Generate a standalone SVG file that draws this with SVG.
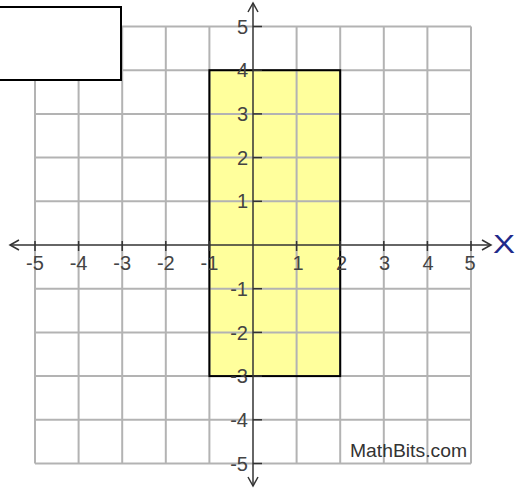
<svg xmlns="http://www.w3.org/2000/svg" width="523" height="489" viewBox="0 0 523 489">
<style>
.grid line{stroke:#b3b3b3;stroke-width:2}
.ax{stroke:#333;stroke-width:1.5;fill:none}
.tick{stroke:#333;stroke-width:1.5}
.lbl{font-family:"Liberation Sans",Arial,sans-serif;font-size:20px;fill:#444}
.xl{text-anchor:middle}
.yl{text-anchor:end}
</style>
<rect width="523" height="489" fill="#fff"/>
<g id="region">
<rect x="209.4" y="70.2" width="130.8" height="305.9" fill="#ffff9c"/>
</g>
<g id="grid" class="grid">
<line x1="35" y1="26.5" x2="35" y2="463.5"/>
<line x1="78.6" y1="26.5" x2="78.6" y2="463.5"/>
<line x1="122.2" y1="26.5" x2="122.2" y2="463.5"/>
<line x1="165.8" y1="26.5" x2="165.8" y2="463.5"/>
<line x1="209.4" y1="26.5" x2="209.4" y2="463.5"/>
<line x1="296.6" y1="26.5" x2="296.6" y2="463.5"/>
<line x1="340.2" y1="26.5" x2="340.2" y2="463.5"/>
<line x1="383.8" y1="26.5" x2="383.8" y2="463.5"/>
<line x1="427.4" y1="26.5" x2="427.4" y2="463.5"/>
<line x1="471" y1="26.5" x2="471" y2="463.5"/>
<line x1="35" y1="26.5" x2="471" y2="26.5"/>
<line x1="35" y1="70.2" x2="471" y2="70.2"/>
<line x1="35" y1="113.9" x2="471" y2="113.9"/>
<line x1="35" y1="157.6" x2="471" y2="157.6"/>
<line x1="35" y1="201.3" x2="471" y2="201.3"/>
<line x1="35" y1="288.7" x2="471" y2="288.7"/>
<line x1="35" y1="332.4" x2="471" y2="332.4"/>
<line x1="35" y1="376.1" x2="471" y2="376.1"/>
<line x1="35" y1="419.8" x2="471" y2="419.8"/>
<line x1="35" y1="463.5" x2="471" y2="463.5"/>
</g>
<g id="region-border">
<rect x="209.4" y="70.2" width="130.8" height="305.9" fill="none" stroke="#000" stroke-width="2"/>
</g>
<g id="axes">
<line class="ax" x1="10" y1="245" x2="491" y2="245"/>
<polyline class="ax" points="19,240 10,245 19,250"/>
<polyline class="ax" points="482,240 491,245 482,250"/>
<line class="ax" x1="253" y1="3" x2="253" y2="486"/>
<polyline class="ax" points="248,12 253,3 258,12"/>
<polyline class="ax" points="248,477 253,486 258,477"/>
<g class="tick">
<line x1="35" y1="241" x2="35" y2="251"/>
<line x1="78.6" y1="241" x2="78.6" y2="251"/>
<line x1="122.2" y1="241" x2="122.2" y2="251"/>
<line x1="165.8" y1="241" x2="165.8" y2="251"/>
<line x1="209.4" y1="241" x2="209.4" y2="251"/>
<line x1="296.6" y1="241" x2="296.6" y2="251"/>
<line x1="340.2" y1="241" x2="340.2" y2="251"/>
<line x1="383.8" y1="241" x2="383.8" y2="251"/>
<line x1="427.4" y1="241" x2="427.4" y2="251"/>
<line x1="471" y1="241" x2="471" y2="251"/>
<line x1="253" y1="26.5" x2="262" y2="26.5"/>
<line x1="253" y1="70.2" x2="262" y2="70.2"/>
<line x1="253" y1="113.9" x2="262" y2="113.9"/>
<line x1="253" y1="157.6" x2="262" y2="157.6"/>
<line x1="253" y1="201.3" x2="262" y2="201.3"/>
<line x1="253" y1="288.7" x2="262" y2="288.7"/>
<line x1="253" y1="332.4" x2="262" y2="332.4"/>
<line x1="253" y1="376.1" x2="262" y2="376.1"/>
<line x1="253" y1="419.8" x2="262" y2="419.8"/>
<line x1="253" y1="463.5" x2="262" y2="463.5"/>
</g>
</g>
<g id="x-labels" class="lbl xl">
<text x="35" y="270">-5</text>
<text x="78.6" y="270">-4</text>
<text x="122.2" y="270">-3</text>
<text x="165.8" y="270">-2</text>
<text x="209.4" y="270">-1</text>
<text x="298" y="270">1</text>
<text x="341.5" y="270">2</text>
<text x="384.5" y="270">3</text>
<text x="428" y="270">4</text>
<text x="470" y="270">5</text>
</g>
<g id="y-labels" class="lbl yl">
<text x="248" y="33.5">5</text>
<text x="248" y="77">4</text>
<text x="248" y="121">3</text>
<text x="248" y="164.5">2</text>
<text x="248" y="208">1</text>
<text x="248" y="296">-1</text>
<text x="248" y="339.5">-2</text>
<text x="248" y="383">-3</text>
<text x="248" y="427">-4</text>
<text x="248" y="470.5">-5</text>
</g>
<g id="x-axis-label">
<text x="493" y="253" font-family="Liberation Sans,Arial,sans-serif" font-size="25" fill="#1f2a8a" textLength="22" lengthAdjust="spacingAndGlyphs">X</text>
</g>
<g id="box">
<rect x="-1" y="7" width="122" height="73" fill="#fff" stroke="#000" stroke-width="2"/>
</g>
<g id="watermark">
<text x="350" y="457" font-family="Liberation Sans,Arial,sans-serif" font-size="19" fill="#333" textLength="117" lengthAdjust="spacingAndGlyphs">MathBits.com</text>
</g>
</svg>
